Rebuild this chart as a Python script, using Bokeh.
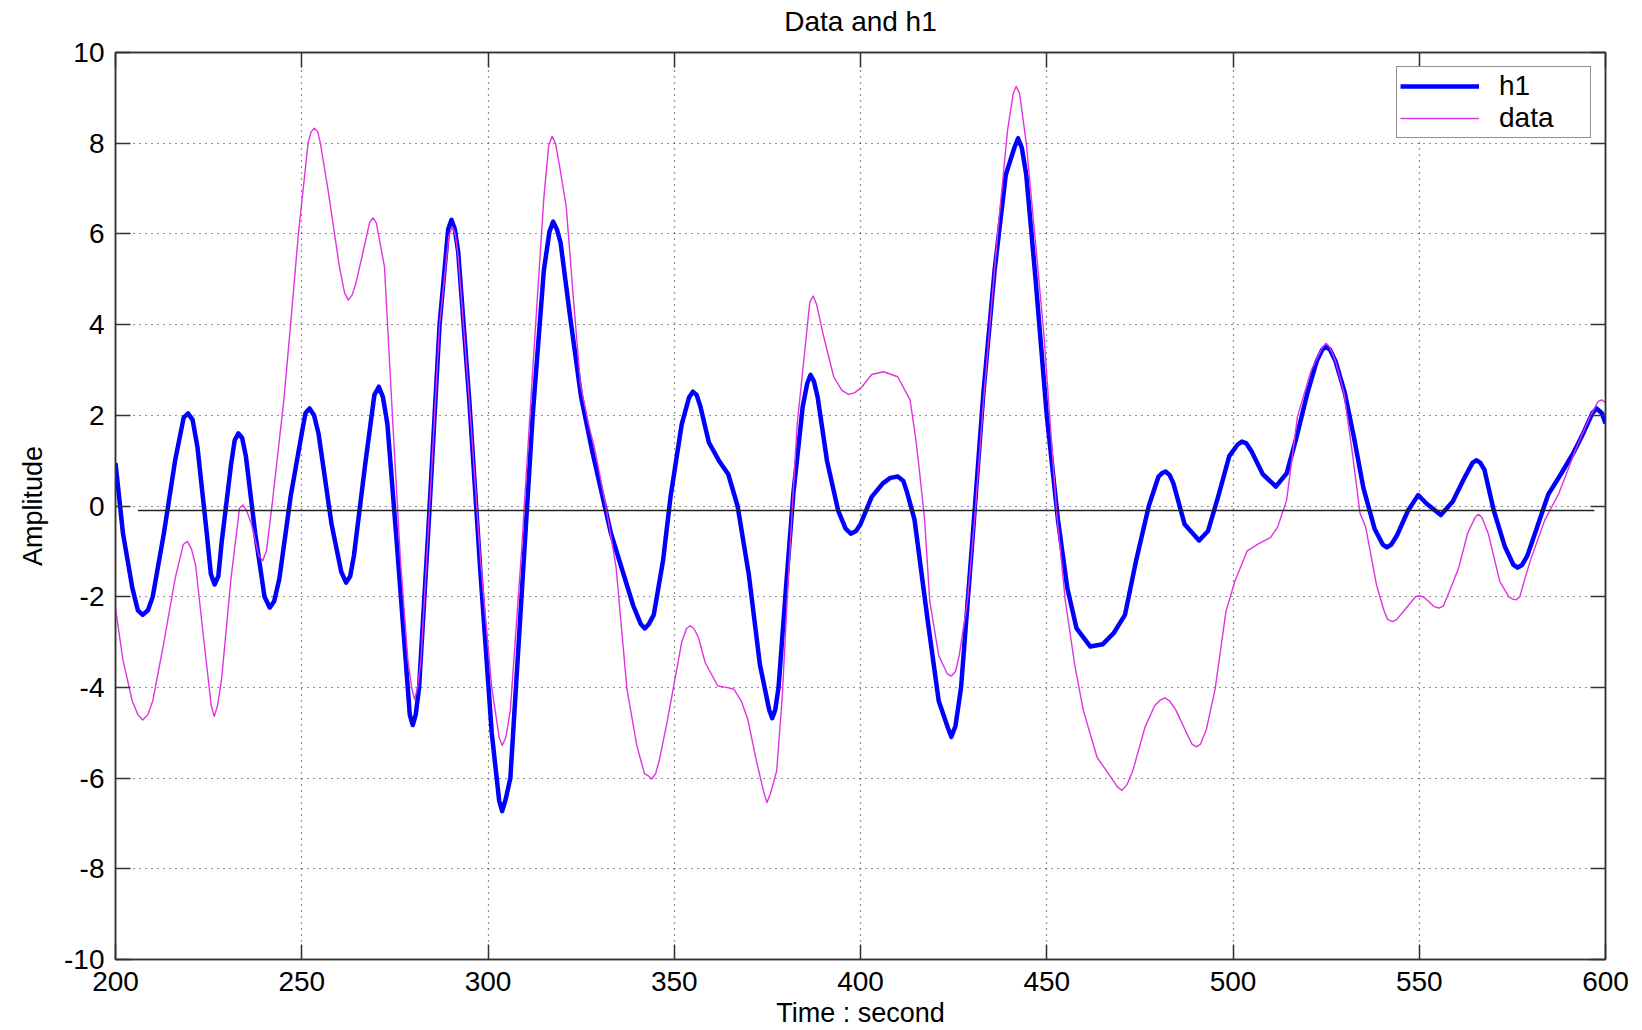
from bokeh.plotting import figure
from bokeh.models import (LinearAxis, Range1d, FixedTicker, CustomJSTickFormatter,
                          Legend, LegendItem)
from bokeh.embed import file_html
from bokeh.resources import INLINE

# ---------------- data ----------------
h1_t = [200, 202, 204.5, 206, 207.3, 208.7, 210, 213, 216, 218.3, 219.5, 220.7, 222, 224.5,
        225.6, 226.6, 227.6, 228.5, 231, 232, 233, 234, 235, 237.5, 240, 241.4, 242.6, 244,
        247, 250, 251, 252.1, 253.3, 254.5, 258, 260.6, 261.9, 263, 264, 267, 269.5, 270.7,
        271.8, 273, 275.5, 278, 279, 279.8, 280.6, 281.5, 284, 287, 289.3, 290.2, 291.1, 292,
        295, 298, 301, 303, 303.8, 304.8, 306, 309, 312, 315, 316.5, 317.5, 318.5, 319.5,
        322, 325, 328, 330.5, 333, 336, 339, 341, 342.1, 343.2, 344.5, 347, 349, 352, 354,
        355, 356, 357, 359.3, 362, 364.5, 367, 370, 373, 375.5, 376.3, 377.1, 378, 380, 382,
        384.5, 385.7, 386.6, 387.5, 388.5, 391, 394, 396, 397.4, 398.8, 400, 403, 406, 408,
        410, 411.5, 412.5, 414.5, 418, 421, 423.5, 424.4, 425.5, 427, 430, 433, 436, 439,
        441.3, 442.3, 443.3, 444.5, 447, 450, 453, 455.5, 458, 461.7, 465, 468, 471, 474,
        477.4, 480, 480.9, 481.9, 483, 484, 487, 490.9, 493.3, 496, 499, 501.2, 502.4, 503.6,
        505, 508, 511.5, 514.4, 517, 520, 522.5, 524, 525, 526, 527.5, 530, 532.5, 535, 538,
        540.2, 541.3, 542.5, 544, 547, 549.7, 552, 555.8, 559, 562, 564.3, 565.4, 566.4,
        567.5, 570, 573, 575.3, 576.4, 577.6, 579, 581.5, 584.6, 588, 591.3, 594, 596.5,
        597.6, 599, 600]
h1_v = [0.95, -0.6, -1.8, -2.3, -2.40, -2.3, -2.0, -0.6, 1.0, 1.95, 2.04, 1.9, 1.3, -0.6,
        -1.5, -1.73, -1.55, -0.8, 0.9, 1.45, 1.6, 1.5, 1.1, -0.6, -2.0, -2.24, -2.1, -1.6,
        0.2, 1.6, 2.05, 2.15, 2.0, 1.6, -0.4, -1.45, -1.69, -1.55, -1.1, 0.9, 2.45, 2.63,
        2.4, 1.8, -0.8, -3.5, -4.6, -4.83, -4.6, -4.0, -0.5, 4.0, 6.1, 6.31, 6.1, 5.6,
        2.3, -1.5, -5.0, -6.5, -6.73, -6.45, -6.0, -2.0, 2.0, 5.2, 6.05, 6.27, 6.1, 5.8,
        4.2, 2.4, 1.2, 0.3, -0.6, -1.4, -2.2, -2.6, -2.70, -2.6, -2.4, -1.2, 0.2, 1.8, 2.4,
        2.52, 2.45, 2.2, 1.4, 1.0, 0.7, 0.0, -1.5, -3.5, -4.5, -4.68, -4.5, -4.0, -1.8, 0.3,
        2.2, 2.7, 2.89, 2.75, 2.4, 1.0, -0.1, -0.5, -0.61, -0.55, -0.4, 0.2, 0.5, 0.62,
        0.65, 0.55, 0.3, -0.3, -2.5, -4.3, -4.9, -5.09, -4.85, -4.0, -0.8, 2.5, 5.2, 7.3,
        7.9, 8.11, 7.9, 7.3, 5.0, 2.0, -0.3, -1.8, -2.7, -3.1, -3.05, -2.8, -2.4, -1.2,
        0.0, 0.65, 0.72, 0.76, 0.68, 0.5, -0.4, -0.76, -0.55, 0.2, 1.1, 1.35, 1.42, 1.38,
        1.2, 0.7, 0.43, 0.72, 1.5, 2.5, 3.2, 3.45, 3.51, 3.45, 3.2, 2.5, 1.5, 0.4, -0.5,
        -0.85, -0.91, -0.85, -0.65, -0.1, 0.24, 0.05, -0.2, 0.1, 0.6, 0.95, 1.01, 0.95,
        0.8, -0.1, -0.9, -1.3, -1.36, -1.3, -1.1, -0.5, 0.25, 0.7, 1.16, 1.6, 2.05,
        2.15, 2.05, 1.82]

data_t = [200, 202, 204.5, 206, 207.3, 208.7, 210, 213, 216, 218.2, 219.3, 220.4, 221.5,
          223.5, 225.7, 226.5, 227.4, 228.5, 231, 233.3, 234.2, 235.2, 236.5, 238.5, 239.5,
          240.5, 242, 245.2, 247, 249.1, 251.7, 252.5, 253.4, 254.3, 255, 257, 260.1, 261.5,
          262.5, 263.5, 264.5, 267, 268.2, 269.1, 270, 272.2, 274.6, 276.5, 278.5, 279.5,
          280.3, 281.1, 282, 284, 287, 289.5, 290.4, 291.2, 292, 295, 298, 301, 303, 303.8,
          304.8, 306, 309, 312, 315, 316.3, 317.2, 318.1, 319, 321, 323, 324.8, 327, 328.7,
          331.5, 334.4, 337.3, 340, 342, 343, 344, 345, 346, 348, 349.7, 352, 353.3, 354.3,
          355.3, 356.5, 358.3, 361.7, 364, 366, 368, 369.8, 372, 374, 374.9, 375.8, 377.5,
          379, 380.3, 381.8, 383, 384.6, 386.4, 387.3, 388.2, 389.9, 392.8, 395, 396.8,
          398.5, 400.4, 403, 406.2, 410, 413.3, 414.8, 415.7, 417.2, 418.6, 421, 423.3,
          424.4, 425.5, 426.5, 428.7, 430.7, 433, 436.8, 439.5, 441, 441.8, 442.7, 444.5,
          447, 449.2, 452.6, 455, 457.5, 459.8, 463.5, 467.3, 469, 470.2, 471.5, 473.1,
          476.4, 479, 480.5, 481.7, 483, 484.6, 487.5, 489, 490.2, 491.3, 492.8, 495.2,
          498.1, 500.5, 503.8, 506.7, 510.1, 512, 514.4, 517.3, 521, 524, 525, 526, 527.5,
          529.8, 532, 534.1, 535.6, 538.5, 540.5, 541.5, 542.8, 544, 546, 549, 550, 551,
          552.5, 554, 555.3, 556.5, 558, 560.6, 563, 565, 565.9, 566.8, 568.5, 571.6, 574,
          575, 576, 577, 578, 579.8, 583.7, 587.5, 592.3, 596, 598, 599, 600]
data_v = [-2.25, -3.4, -4.3, -4.6, -4.72, -4.6, -4.3, -3.0, -1.6, -0.85, -0.78, -0.95, -1.3,
          -2.8, -4.4, -4.64, -4.4, -3.8, -1.6, -0.05, 0.02, -0.1, -0.4, -1.1, -1.21,
          -1.0, 0.0, 2.34, 4.0, 6.0, 8.0, 8.25, 8.33, 8.25, 8.0, 7.0, 5.28, 4.7,
          4.54, 4.65, 4.9, 5.8, 6.25, 6.35, 6.25, 5.28, 1.6, -1.2, -3.4, -4.0,
          -4.27, -4.0, -3.4, -0.5, 4.0, 5.95, 6.16, 6.0, 5.5, 2.3, -1.2, -4.0, -5.1, -5.28,
          -5.1, -4.5, -1.0, 3.0, 6.8, 7.95, 8.15, 8.0, 7.6, 6.6, 4.5, 2.7, 1.8, 1.24,
          0.06, -1.36, -4.04, -5.3, -5.9, -5.95, -6.02, -5.9, -5.6, -4.8, -4.04, -3.0, -2.7, -2.64,
          -2.7, -2.9, -3.45, -3.97, -4.0, -4.04, -4.3, -4.72, -5.6, -6.3, -6.54, -6.35, -5.84,
          -4.2, -2.1, 0.13, 1.8, 3.07, 4.5, 4.63, 4.45, 3.81, 2.85, 2.55, 2.46,
          2.5, 2.63, 2.9, 2.96, 2.85, 2.34, 1.5, 0.87, -0.3, -2.1, -3.3, -3.7,
          -3.75, -3.65, -3.3, -2.1, -0.24, 2.3, 6.0, 8.3, 9.1, 9.25, 9.1, 8.0,
          5.8, 3.81, -0.09, -2.1, -3.5, -4.5, -5.54, -5.99, -6.2, -6.27, -6.15, -5.84,
          -4.87, -4.4, -4.28, -4.23, -4.3, -4.49, -5.0, -5.25, -5.31, -5.25, -4.94, -4.04,
          -2.33, -1.66, -0.99, -0.84, -0.69, -0.46, 0.13, 1.97, 3.0, 3.5, 3.59, 3.5, 3.2,
          2.49, 1.2, -0.16, -0.46, -1.73, -2.3, -2.5, -2.55, -2.5, -2.3, -2.0, -1.98, -2.0,
          -2.1, -2.22, -2.25, -2.2, -1.9, -1.36, -0.6, -0.25, -0.18, -0.25, -0.6, -1.66, -2.0,
          -2.05, -2.07, -2.0, -1.7, -1.21, -0.31, 0.28, 1.31, 2.0, 2.3, 2.34, 2.28]

ref_t = [206, 597]
ref_v = [-0.1, -0.1]

x_ticks = [200, 250, 300, 350, 400, 450, 500, 550, 600]
y_ticks = [-10, -8, -6, -4, -2, 0, 2, 4, 6, 8, 10]

TITLE = "Data and h1"
FONT = "Liberation Sans"
AX = "#333333"

p = figure(width=1642, height=1030, output_backend="svg", toolbar_location=None,
           x_range=Range1d(200, 600), y_range=Range1d(-10, 10), title=None,
           min_border_left=115, min_border_right=37, min_border_top=52,
           min_border_bottom=71, background_fill_color="white",
           border_fill_color="white", x_axis_label="Time : second",
           y_axis_label="Amplitude")
p.outline_line_color = AX
p.outline_line_width = 1.5

plain = CustomJSTickFormatter(code="return tick.toString()")
for ax in (p.xaxis[0], p.yaxis[0]):
    ax.formatter = plain
    ax.axis_line_color = AX
    ax.axis_line_width = 1.5
    ax.major_tick_line_color = AX
    ax.major_tick_line_width = 1.5
    ax.major_tick_in = 15
    ax.major_tick_out = 0
    ax.minor_tick_line_color = None
    ax.major_label_text_font = FONT
    ax.major_label_text_font_size = "28px"
    ax.major_label_text_color = "black"
    ax.axis_label_text_font = FONT
    ax.axis_label_text_font_size = "27px"
    ax.axis_label_text_font_style = "normal"
    ax.axis_label_text_color = "black"

p.xaxis[0].ticker = FixedTicker(ticks=x_ticks)
p.yaxis[0].ticker = FixedTicker(ticks=y_ticks)
p.xaxis[0].major_label_standoff = 12
p.xaxis[0].axis_label_standoff = 4
p.yaxis[0].major_label_standoff = 11
p.yaxis[0].axis_label_standoff = 13

blank = CustomJSTickFormatter(code="return ''")
top = LinearAxis(ticker=FixedTicker(ticks=x_ticks), formatter=blank, axis_label=TITLE)
right = LinearAxis(ticker=FixedTicker(ticks=y_ticks), formatter=blank)
for ax in (top, right):
    ax.axis_line_color = AX
    ax.axis_line_width = 1.5
    ax.major_tick_line_color = AX
    ax.major_tick_line_width = 1.5
    ax.major_tick_in = 15
    ax.major_tick_out = 0
    ax.minor_tick_line_color = None
    ax.major_label_standoff = 0
    ax.major_label_text_font_size = "1px"
top.axis_label_text_font = FONT
top.axis_label_text_font_size = "28px"
top.axis_label_text_font_style = "normal"
top.axis_label_text_color = "black"
top.axis_label_standoff = 16
p.add_layout(top, "above")
p.add_layout(right, "right")

p.xgrid.ticker = FixedTicker(ticks=x_ticks)
p.ygrid.ticker = FixedTicker(ticks=y_ticks)
for g in (p.xgrid[0], p.ygrid[0]):
    g.grid_line_color = "#222222"
    g.grid_line_width = 1.2
    g.grid_line_dash = "1 5"

r_h1 = p.line(h1_t, h1_v, line_color="#0000FF", line_width=4.5, line_join="round")
r_data = p.line(data_t, data_v, line_color="#E033E0", line_width=1.4, line_join="round")
p.line(ref_t, ref_v, line_color="#222222", line_width=1.5)

legend = Legend(items=[LegendItem(label="h1", renderers=[r_h1]),
                       LegendItem(label="data", renderers=[r_data])],
                location="top_right", margin=14, padding=3, spacing=0,
                glyph_width=79, glyph_height=28, label_height=28, label_width=88,
                label_standoff=20, label_text_font=FONT, label_text_font_size="28px",
                label_text_color="black", border_line_color="#222222",
                border_line_width=1.5, background_fill_alpha=1.0)
p.add_layout(legend, "center")

open("out.html", "w").write(file_html(p, INLINE))
